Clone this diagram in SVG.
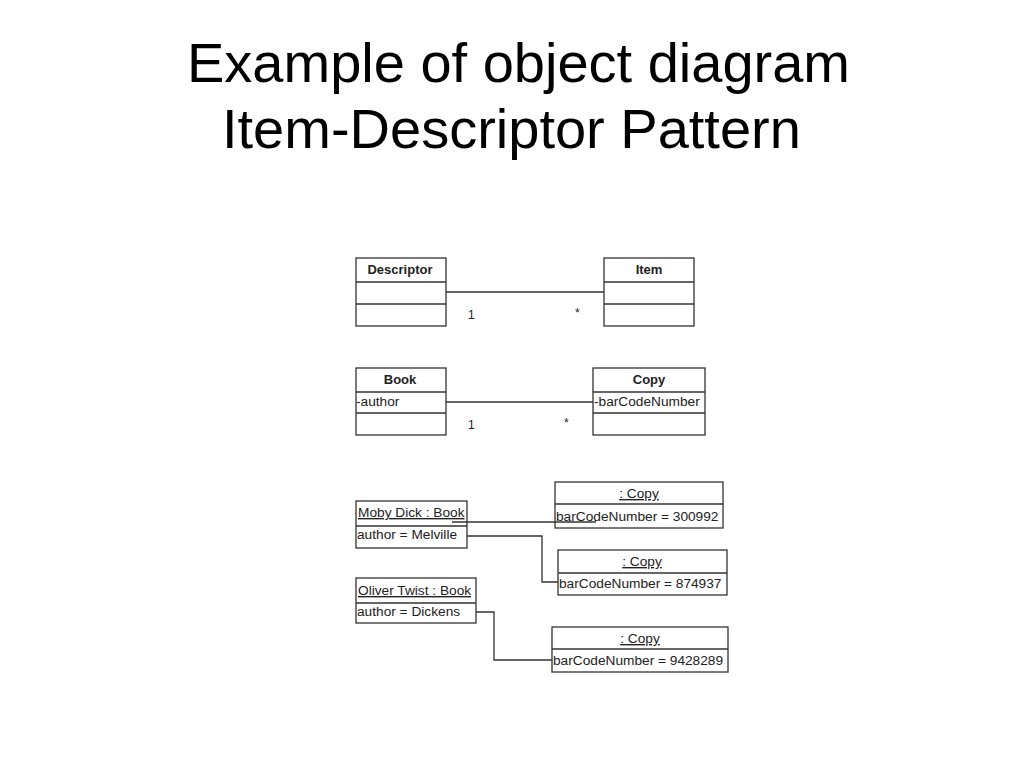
<svg xmlns="http://www.w3.org/2000/svg" width="1024" height="768" viewBox="0 0 1024 768">
<style>
.title{font-family:"Liberation Sans",Arial,sans-serif;font-size:56px;fill:#000}
.box{fill:#fff;stroke:#333;stroke-width:1.3}
.sep{stroke:#333;stroke-width:1.3}
.cn{font-family:"Liberation Sans",Arial,sans-serif;font-size:13px;font-weight:bold;fill:#222;text-anchor:middle}
.t{font-family:"Liberation Sans",Arial,sans-serif;font-size:13.7px;fill:#222}
.tc{font-family:"Liberation Sans",Arial,sans-serif;font-size:13.7px;fill:#222;text-anchor:middle;text-decoration:underline}
.tu{font-family:"Liberation Sans",Arial,sans-serif;font-size:13.7px;fill:#222;text-decoration:underline}
.m{font-family:"Liberation Sans",Arial,sans-serif;font-size:12px;fill:#222}
.conn{fill:none;stroke:#333;stroke-width:1.3}
</style>
<rect width="1024" height="768" fill="#fff"/>
<text class="title" x="187" y="82">Example of object diagram</text>
<text class="title" x="222" y="148">Item-Descriptor Pattern</text>

<g id="connectors">
<line class="conn" x1="446" y1="292" x2="604" y2="292"/>
<line class="conn" x1="446" y1="402" x2="593" y2="402"/>
<line class="conn" x1="452" y1="522" x2="596" y2="522"/>
<polyline class="conn" points="467,536 542,536 542,582 558,582"/>
<polyline class="conn" points="476,612 494,612 494,660 552,660"/>
<text class="m" x="468" y="319">1</text>
<text class="m" x="575" y="317">*</text>
<text class="m" x="468" y="429">1</text>
<text class="m" x="564" y="427">*</text>
</g>

<g id="descriptor">
<rect class="box" x="356" y="258" width="90" height="68"/>
<line class="sep" x1="356" y1="282" x2="446" y2="282"/>
<line class="sep" x1="356" y1="304" x2="446" y2="304"/>
<text class="cn" x="400" y="274">Descriptor</text>
</g>

<g id="item">
<rect class="box" x="604" y="258" width="90" height="68"/>
<line class="sep" x1="604" y1="282" x2="694" y2="282"/>
<line class="sep" x1="604" y1="304" x2="694" y2="304"/>
<text class="cn" x="649" y="274">Item</text>
</g>

<g id="book">
<rect class="box" x="356" y="368" width="90" height="67"/>
<line class="sep" x1="356" y1="392" x2="446" y2="392"/>
<line class="sep" x1="356" y1="413" x2="446" y2="413"/>
<text class="cn" x="400" y="384">Book</text>
<text class="t" x="356" y="406">-author</text>
</g>

<g id="copy">
<rect class="box" x="593" y="368" width="112" height="67"/>
<line class="sep" x1="593" y1="392" x2="705" y2="392"/>
<line class="sep" x1="593" y1="413" x2="705" y2="413"/>
<text class="cn" x="649" y="384">Copy</text>
<text class="t" x="594" y="406">-barCodeNumber</text>
</g>

<g id="mobydick">
<rect class="box" x="356" y="501" width="111" height="47" style="fill:none"/>
<line class="sep" x1="356" y1="526" x2="467" y2="526"/>
<text class="tu" x="358" y="517">Moby Dick : Book</text>
<text class="t" x="357" y="539">author = Melville</text>
</g>

<g id="copy1">
<rect class="box" x="555" y="482" width="168" height="46" style="fill:none"/>
<line class="sep" x1="555" y1="504" x2="723" y2="504"/>
<text class="tc" x="639" y="498">: Copy</text>
<text class="t" x="556" y="521">barCodeNumber = 300992</text>
</g>

<g id="copy2">
<rect class="box" x="558" y="550" width="169" height="45"/>
<line class="sep" x1="558" y1="573" x2="727" y2="573"/>
<text class="tc" x="642" y="566">: Copy</text>
<text class="t" x="559" y="588">barCodeNumber = 874937</text>
</g>

<g id="olivertwist">
<rect class="box" x="356" y="578" width="120" height="45"/>
<line class="sep" x1="356" y1="603" x2="476" y2="603"/>
<text class="tu" x="358" y="595">Oliver Twist : Book</text>
<text class="t" x="357" y="616">author = Dickens</text>
</g>

<g id="copy3">
<rect class="box" x="552" y="627" width="176" height="45"/>
<line class="sep" x1="552" y1="649" x2="728" y2="649"/>
<text class="tc" x="640" y="643">: Copy</text>
<text class="t" x="553" y="665">barCodeNumber = 9428289</text>
</g>
</svg>
